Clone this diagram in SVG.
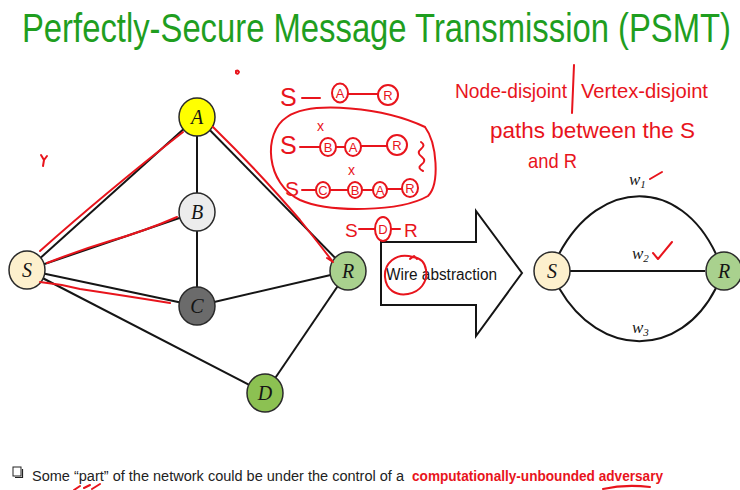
<svg xmlns="http://www.w3.org/2000/svg" width="740" height="490" viewBox="0 0 740 490">
  <style>
    .edge { stroke: #151515; stroke-width: 2; fill: none; }
    .node { stroke: #2a2a2a; stroke-width: 1.5; }
    .lbl { font-family: "Liberation Serif", "DejaVu Serif", serif; font-style: italic; font-size: 20px; fill: #151515; text-anchor: middle; dominant-baseline: central; }
    .wlbl { font-family: "Liberation Serif", "DejaVu Serif", serif; font-style: italic; font-size: 17px; fill: #151515; }
    .ink { stroke: #e8141c; stroke-width: 2; fill: none; stroke-linecap: round; stroke-linejoin: round; }
    .hand { font-family: "Liberation Sans", "DejaVu Sans", sans-serif; fill: #e8141c; }
    .cl { font-family: "Liberation Sans", "DejaVu Sans", sans-serif; font-size: 13px; fill: #e8141c; text-anchor: middle; dominant-baseline: central; }
  </style>

  <rect width="740" height="490" fill="#ffffff"/>

  <!-- title, narrowed horizontally -->
  <g transform="translate(22,42) scale(0.81,1)">
    <text x="0" y="0" font-family="Liberation Sans, Arial, sans-serif" font-size="40.5" fill="#1f9e1f">Perfectly-Secure Message Transmission (PSMT)</text>
  </g>

  <!-- network edges -->
  <g id="edges">
    <line class="edge" x1="27" y1="270" x2="197" y2="117"/>
    <line class="edge" x1="27" y1="270" x2="197" y2="212"/>
    <line class="edge" x1="27" y1="270" x2="197" y2="306"/>
    <line class="edge" x1="27" y1="270" x2="265" y2="393"/>
    <line class="edge" x1="197" y1="117" x2="197" y2="212"/>
    <line class="edge" x1="197" y1="212" x2="197" y2="306"/>
    <line class="edge" x1="197" y1="117" x2="348" y2="271"/>
    <line class="edge" x1="197" y1="306" x2="348" y2="271"/>
    <line class="edge" x1="265" y1="393" x2="348" y2="271"/>
  </g>

  <!-- network nodes -->
  <g id="node-A"><ellipse class="node" cx="197" cy="117" rx="18" ry="19" fill="#ffff00"/><text class="lbl" x="197" y="117">A</text></g>
  <g id="node-B"><ellipse class="node" cx="197" cy="212" rx="18" ry="19" fill="#ececec"/><text class="lbl" x="197" y="212">B</text></g>
  <g id="node-C"><ellipse class="node" cx="197" cy="306" rx="18" ry="19" fill="#6b6b6b"/><text class="lbl" x="197" y="306">C</text></g>
  <g id="node-S"><ellipse class="node" cx="27" cy="270" rx="18" ry="19" fill="#fdf0cd"/><text class="lbl" x="27" y="270">S</text></g>
  <g id="node-R"><ellipse class="node" cx="348" cy="271" rx="18" ry="19" fill="#a9d18e"/><text class="lbl" x="348" y="271">R</text></g>
  <g id="node-D"><ellipse class="node" cx="265" cy="393" rx="18" ry="19" fill="#8cc152"/><text class="lbl" x="265" y="393">D</text></g>

  <!-- block arrow -->
  <g id="wire-abstraction">
    <polygon points="381,242 476,242 476,211 522,273 476,336 476,305 381,305" fill="#ffffff" stroke="#151515" stroke-width="2"/>
    <text x="386" y="280" font-family="Liberation Sans, Arial, sans-serif" font-size="16" fill="#151515" textLength="111" lengthAdjust="spacingAndGlyphs">Wire abstraction</text>
  </g>

  <!-- wire model -->
  <g id="wires">
    <path class="edge" d="M559 254 C600 177 680 177 716 254"/>
    <line class="edge" x1="570" y1="271" x2="705" y2="271"/>
    <path class="edge" d="M559 288 C600 359 680 359 716 288"/>
  </g>
  <g id="wire-S"><ellipse class="node" cx="552" cy="271" rx="18" ry="19" fill="#fdf0cd"/><text class="lbl" x="552" y="271">S</text></g>
  <g id="wire-R"><ellipse class="node" cx="724" cy="271" rx="18" ry="19" fill="#a9d18e"/><text class="lbl" x="724" y="271">R</text></g>
  <g id="wire-labels">
    <text class="wlbl" x="629" y="185">w<tspan font-size="11" dy="3">1</tspan></text>
    <text class="wlbl" x="632" y="259">w<tspan font-size="11" dy="3">2</tspan></text>
    <text class="wlbl" x="632" y="333">w<tspan font-size="11" dy="3">3</tspan></text>
  </g>

  <!-- bottom bullet -->
  <g id="bullet">
    <rect x="13" y="467" width="8" height="9" fill="#ffffff" stroke="#222" stroke-width="1"/>
    <path d="M15 477.5 H22.5 V469" stroke="#222" stroke-width="1.2" fill="none"/>
    <text x="32" y="481" font-family="Liberation Sans, Arial, sans-serif" font-size="15.5" fill="#222" textLength="372" lengthAdjust="spacingAndGlyphs">Some “part” of the network could be under the control of a</text>
    <text x="412" y="481" font-family="Liberation Sans, Arial, sans-serif" font-size="15.5" font-weight="bold" fill="#e8141c" textLength="251" lengthAdjust="spacingAndGlyphs">computationally-unbounded adversary</text>
  </g>

  <!-- pen annotations -->
  <g id="annotations">
    <!-- paths traced over the network -->
    <path class="ink" d="M40 251 Q104 194 183 132"/>
    <path class="ink" d="M47 263 Q80 250 110 241 Q145 231 177 217"/>
    <path class="ink" d="M40 282 Q60 284 80 289 Q120 295 170 303"/>
    <path class="ink" d="M213 127 Q262 175 300 220 Q320 245 333 262 L327 258"/>
    <path class="ink" d="M41 155 L44 160 L47 156 M44 160 L43 166"/>
    <path class="ink" d="M236 71 q2 -1 3 1 q-1 3 -3 1 z" stroke-width="1.5"/>

    <!-- S-A-R -->
    <text class="hand" x="280" y="106" font-size="25">S</text>
    <line class="ink" x1="302" y1="98" x2="320" y2="98"/>
    <ellipse class="ink" cx="340" cy="93" rx="8" ry="9.5"/>
    <text class="cl" x="340" y="93">A</text>
    <line class="ink" x1="348" y1="94" x2="378" y2="94"/>
    <ellipse class="ink" cx="388" cy="95" rx="10" ry="10"/>
    <text class="cl" x="388" y="95" font-size="15">R</text>

    <!-- enclosing loop -->
    <path class="ink" d="M425 127 C385 108 312 100 287 117 C262 133 266 184 300 200 C330 213 400 212 428 196 C440 184 437 143 425 127"/>
    <path class="ink" d="M421 142 q5 3 0 7 q-5 4 1 8 q5 4 -1 8 q-4 3 2 6" stroke-width="1.6"/>

    <!-- S-B-A-R -->
    <text class="hand" x="280" y="154" font-size="25">S</text>
    <line class="ink" x1="300" y1="147" x2="320" y2="147"/>
    <text class="hand" x="317" y="131" font-size="14">x</text>
    <ellipse class="ink" cx="328" cy="147" rx="8" ry="9"/>
    <text class="cl" x="328" y="147">B</text>
    <line class="ink" x1="336" y1="147" x2="345" y2="147"/>
    <ellipse class="ink" cx="353" cy="147" rx="8" ry="9"/>
    <text class="cl" x="353" y="147">A</text>
    <line class="ink" x1="361" y1="146" x2="387" y2="146"/>
    <ellipse class="ink" cx="397" cy="145" rx="10" ry="10"/>
    <text class="cl" x="397" y="145" font-size="15">R</text>

    <!-- S-C-B-A-R -->
    <text class="hand" x="285" y="196" font-size="21">S</text>
    <line class="ink" x1="302" y1="190" x2="316" y2="190"/>
    <ellipse class="ink" cx="323" cy="190" rx="7" ry="8"/>
    <text class="cl" x="323" y="190" font-size="12">C</text>
    <line class="ink" x1="330" y1="190" x2="348" y2="190"/>
    <text class="hand" x="348" y="175" font-size="14">x</text>
    <ellipse class="ink" cx="355" cy="190" rx="7" ry="8"/>
    <text class="cl" x="355" y="190" font-size="12">B</text>
    <line class="ink" x1="362" y1="190" x2="373" y2="190"/>
    <ellipse class="ink" cx="380" cy="190" rx="7" ry="8"/>
    <text class="cl" x="380" y="190" font-size="12">A</text>
    <line class="ink" x1="387" y1="189" x2="402" y2="189"/>
    <ellipse class="ink" cx="410" cy="188" rx="8" ry="9"/>
    <text class="cl" x="410" y="188">R</text>

    <!-- S-D-R -->
    <text class="hand" x="345" y="237" font-size="19">S</text>
    <line class="ink" x1="359" y1="229" x2="375" y2="229"/>
    <ellipse class="ink" cx="383" cy="229" rx="8" ry="12"/>
    <text class="cl" x="383" y="229" font-size="15">D</text>
    <line class="ink" x1="391" y1="229" x2="400" y2="229"/>
    <text class="hand" x="404" y="237" font-size="19">R</text>

    <!-- circled "Wire" -->
    <path class="ink" d="M413 257 C395 252 384 264 385 277 C386 290 396 296 408 294 C420 292 428 282 426 270 C425 262 420 258 413 257 M410 259 l4 -3 l3 3"/>

    <!-- note on disjoint paths -->
    <text class="hand" x="455" y="98" font-size="21" textLength="112" lengthAdjust="spacingAndGlyphs">Node-disjoint</text>
    <path class="ink" d="M574 65 L572 113"/>
    <text class="hand" x="581" y="98" font-size="21" textLength="127" lengthAdjust="spacingAndGlyphs">Vertex-disjoint</text>
    <text class="hand" x="490" y="138" font-size="22" textLength="205" lengthAdjust="spacingAndGlyphs">paths between the S</text>
    <text class="hand" x="528" y="168" font-size="21" textLength="49" lengthAdjust="spacingAndGlyphs">and R</text>

    <!-- ticks on wires -->
    <path class="ink" d="M650 179 L662 172"/>
    <path class="ink" d="M653 253 L658 259 L672 242"/>

    <!-- marks below the bullet -->
    <path class="ink" d="M74 490 L80 486 M84 488 L90 485 M92 489 L100 484" stroke-width="2.5"/>
    <path class="ink" d="M603 489 Q625 484 650 487" stroke-width="2.5"/>
  </g>
</svg>
